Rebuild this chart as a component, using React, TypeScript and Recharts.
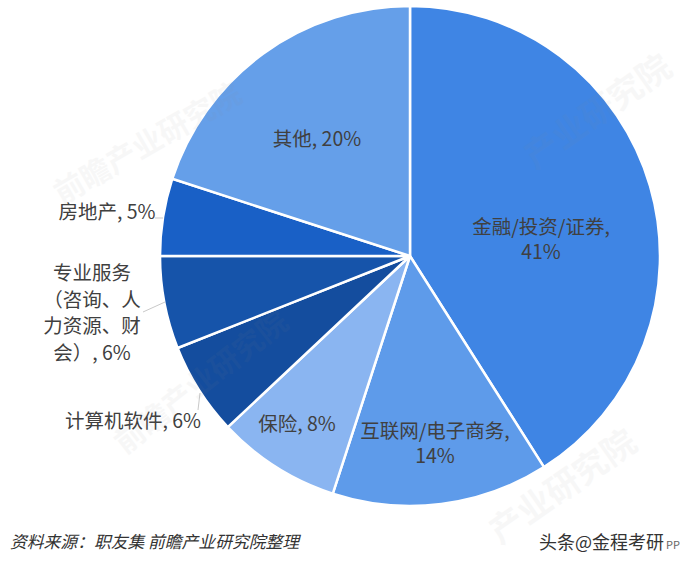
import { PieChart, Pie, Cell } from "recharts";

const industries = ["金融/投资/证券", "互联网/电子商务", "保险", "计算机软件", "专业服务（咨询、人力资源、财会）", "房地产", "其他"];
const shares = [41, 14, 8, 6, 6, 5, 20];
const sliceColors = ["#3F85E4", "#5E9BEA", "#8AB5F1", "#144D9E", "#1654AA", "#1960C6", "#659FE9"];

// 每个标签的文字行
const labelLines = [
  ["金融/投资/证券,", "41%"],
  ["互联网/电子商务,", "14%"],
  ["保险, 8%"],
  ["计算机软件, 6%"],
  ["专业服务", "（咨询、人", "力资源、财", "会）, 6%"],
  ["房地产, 5%"],
  ["其他, 20%"],
];
// 标签中心相对圆心的偏移
const labelOffsets = [[131, -17], [25, 187], [-113, 168], [-277, 165], [-318, 57], [-303, -44], [-93, -117]];
// 引导线，相对圆心
const leaders: (number[] | null)[] = [null, null, null, [-212, 154, -210, 137], [-267, 56, -245, 46], [-255, -38, -247, -38], null];

const pieData = industries.map((name, i) => ({ name, value: shares[i] }));

const watermarks = [
  { text: "前瞻产业研究院", x: 62, y: 205, size: 30, rotate: -30 },
  { text: "产业研究院", x: 535, y: 170, size: 34, rotate: -35 },
  { text: "前瞻产业研究院", x: 125, y: 455, size: 30, rotate: -38 },
  { text: "产业研究院", x: 500, y: 545, size: 34, rotate: -35 },
];

const FONT = '"Noto Sans CJK SC", "Noto Sans", sans-serif';

const renderLabel = (props: any) => {
  const { cx, cy, index } = props;
  const [dx, dy] = labelOffsets[index];
  const lines = labelLines[index];
  const lead = leaders[index];
  const step = lines.length > 2 ? 26.5 : 25;
  const top = cy + dy - ((lines.length - 1) * step) / 2;
  return (
    <g key={index}>
      {lead && (
        <line x1={cx + lead[0]} y1={cy + lead[1]} x2={cx + lead[2]} y2={cy + lead[3]} stroke="#c9c9c9" strokeWidth={1} />
      )}
      <text x={cx + dx} y={top} textAnchor="middle" fontSize={19.5} fontFamily={FONT} fill="#404040">
        {lines.map((t: string, i: number) => (
          <tspan key={i} x={cx + dx} y={top + i * step} dy="0.36em">{t}</tspan>
        ))}
      </text>
    </g>
  );
};

export default function App() {
  return (
    <div style={{ position: "absolute", left: 0, top: 0, width: 680, height: 567, background: "#fff", overflow: "hidden" }}>
      <PieChart width={680} height={567} margin={{ top: 0, right: 0, bottom: 0, left: 0 }}>
        <Pie
          data={pieData}
          dataKey="value"
          nameKey="name"
          cx={410}
          cy={256}
          innerRadius={0}
          outerRadius={250}
          startAngle={90}
          endAngle={-270}
          stroke="#fff"
          strokeWidth={2.5}
          label={renderLabel}
          labelLine={false}
          isAnimationActive={false}
        >
          {pieData.map((d, i) => (
            <Cell key={d.name} fill={sliceColors[i]} />
          ))}
        </Pie>
      </PieChart>
      <svg width={680} height={567} style={{ position: "absolute", left: 0, top: 0, pointerEvents: "none" }}>
        {watermarks.map((w, i) => (
          <text key={i} x={w.x} y={w.y} fontSize={w.size} fontWeight={700} fontFamily={FONT} fill="#8a8a8a" opacity={0.06}
            transform={`rotate(${w.rotate} ${w.x} ${w.y})`}>{w.text}</text>
        ))}
        <text x={10} y={548} fontSize={16.8} fontStyle="italic" fontFamily={FONT} fill="#333">资料来源：职友集 前瞻产业研究院整理</text>
        <text x={539} y={549} fontSize={18} fontFamily={FONT} fill="#333">头条@金程考研</text>
        <text x={666} y={549} fontSize={11} fontFamily={FONT} fill="#666">PP</text>
      </svg>
    </div>
  );
}
